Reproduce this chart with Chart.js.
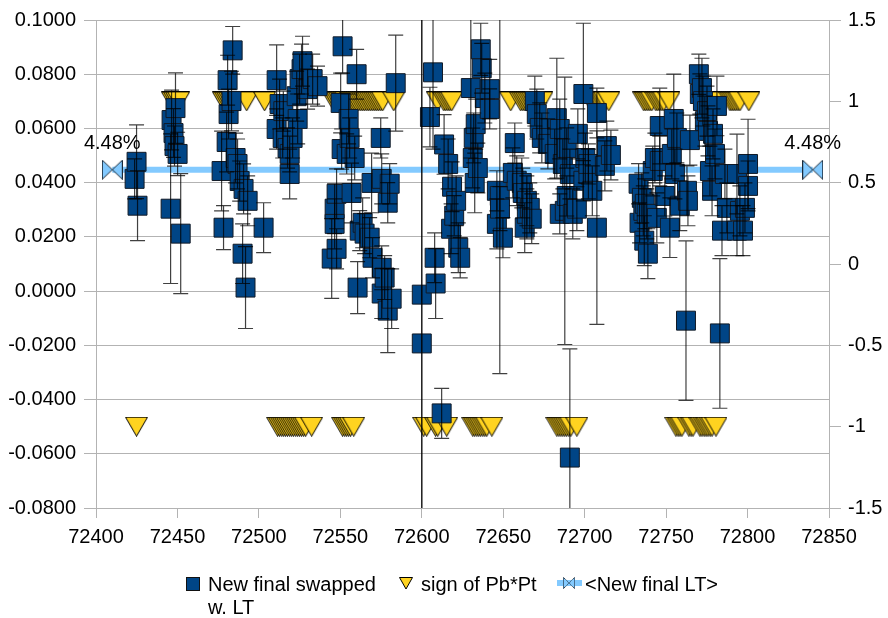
<!DOCTYPE html>
<html>
<head>
<meta charset="utf-8">
<script src="https://cdn.jsdelivr.net/npm/chart.js@4.4.1/dist/chart.umd.min.js"></script>
<style>
  html, body { margin: 0; padding: 0; background: #ffffff; }
  #wrap { width: 888px; height: 618px; }
</style>
</head>
<body>
<div id="wrap"><canvas id="c" width="888" height="618"></canvas></div>
<script>
// ---- data -------------------------------------------------------------
// Day number of each measurement
const days = [
  72423.7, 72424.9, 72425.5,
  72445.8, 72446.4, 72447.6, 72448.2, 72448.8, 72450.1, 72452.0,
  72477.1, 72478.3, 72480.2, 72480.8, 72481.4, 72483.2, 72483.9, 72485.7, 72486.9, 72488.2,
  72490.0, 72490.6, 72491.8, 72493.1, 72502.9,
  72510.9, 72510.9, 72512.7, 72514.6, 72515.0, 72517.6, 72518.9, 72518.9, 72520.7, 72523.2,
  72523.8, 72525.0, 72526.2, 72526.8, 72529.9, 72533.0, 72536.0,
  72544.7, 72546.5, 72546.5, 72547.7, 72547.7, 72550.2, 72550.8, 72551.4, 72553.9, 72555.1,
  72555.7, 72556.9, 72558.8, 72560.0, 72560.6, 72561.9, 72563.7, 72564.9, 72568.0, 72569.2,
  72569.8, 72574.8, 72575.4, 72575.4, 72575.4, 72577.2, 72579.1, 72579.1, 72580.3, 72581.5, 72584.0,
  72600.0, 72600.0, 72605.0, 72606.9, 72607.9, 72608.5, 72612.2, 72613.7, 72616.2, 72618.0,
  72618.6, 72619.9, 72621.1, 72622.4, 72623.6,
  72630.1, 72631.3, 72631.9, 72632.5, 72633.1, 72634.4, 72636.2, 72636.8, 72638.7, 72641.7,
  72641.7, 72646.1, 72646.1, 72647.9, 72648.0, 72649.8,
  72655.9, 72657.1, 72658.3, 72661.4, 72662.0, 72663.2, 72664.5, 72664.5, 72666.3, 72667.5,
  72669.4, 72670.6, 72672.4, 72673.7, 72677.4, 72681.6, 72682.9, 72684.7, 72684.7, 72686.6,
  72687.8, 72689.0, 72689.0, 72690.9, 72690.9, 72692.7, 72695.2, 72695.8, 72699.2, 72699.2,
  72700.4, 72702.3, 72702.3, 72704.7, 72707.5, 72707.5, 72712.4, 72713.6, 72716.1,
  72733.1, 72733.7, 72735.1, 72736.0, 72736.6, 72736.9, 72738.1, 72738.8, 72741.8, 72743.1,
  72744.3, 72746.1, 72746.1, 72749.2, 72752.3, 72753.5, 72754.7, 72755.4, 72756.6, 72758.4,
  72762.2, 72762.8, 72763.4, 72764.6,
  72770.1, 72770.7, 72772.0, 72772.6, 72773.8, 72775.1, 72775.7, 72776.9, 72778.2, 72778.8,
  72780.0, 72781.2, 72783.0, 72784.3, 72786.1, 72787.3, 72793.5, 72793.5, 72795.3, 72797.2,
  72798.4, 72800.3, 72800.3
];

// "New final swapped w. LT" values (left axis)
const swapped = [
  0.0414, 0.0477, 0.0315,
  0.0304, 0.0631, 0.0583, 0.0535, 0.0675, 0.0506, 0.0212,
  0.0443, 0.0234, 0.0550, 0.0778, 0.0653, 0.0701, 0.0888, 0.0491, 0.0469, 0.0406,
  0.0138, 0.0377, 0.0013, 0.0333, 0.0234,
  0.0778, 0.0598, 0.0690, 0.0565, 0.0664, 0.0528, 0.0506, 0.0432, 0.0565, 0.0719,
  0.0635, 0.0782, 0.0819, 0.0848, 0.0745, 0.0782, 0.0756,
  0.0120, 0.0304, 0.0248, 0.0359, 0.0156, 0.0694, 0.0524, 0.0903, 0.0506, 0.0635,
  0.0565, 0.0362, 0.0491, 0.0800, 0.0013, 0.0223, 0.0252, 0.0212, 0.0197, 0.0399,
  0.0123, 0.0565, 0.0414, 0.0086, -0.0009, 0.0050, 0.0326, -0.0072, 0.0396, -0.0028, 0.0767,
  -0.0013, -0.0193, 0.0642, 0.0807, 0.0123, 0.0028, -0.0451, 0.0541, 0.0469, 0.0230,
  0.0385, 0.0278, 0.0333, 0.0160, 0.0123,
  0.0749, 0.0491, 0.0565, 0.0399, 0.0616, 0.0454, 0.0892, 0.0822, 0.0712, 0.0745,
  0.0672, 0.0370, 0.0248, 0.0351, 0.0304, 0.0197,
  0.0436, 0.0546, 0.0407, 0.0399, 0.0362, 0.0234, 0.0333, 0.0285, 0.0307, 0.0267,
  0.0701, 0.0653, 0.0602, 0.0565, 0.0543, 0.0506, 0.0638, 0.0598, 0.0285, 0.0469,
  0.0296, 0.0528, 0.0351, 0.0432, -0.0614, 0.0285, 0.0304, 0.0580, 0.0727, 0.0407,
  0.0491, 0.0432, 0.0469, 0.0370, 0.0657, 0.0234, 0.0462, 0.0535, 0.0502,
  0.0396, 0.0252, 0.0344, 0.0296, 0.0186, 0.0322, 0.0285, 0.0138, 0.0443, 0.0491,
  0.0270, 0.0609, 0.0480, 0.0351, 0.0234, 0.0506, 0.0635, 0.0432, 0.0565, 0.0315,
  -0.0109, 0.0370, 0.0333, 0.0557,
  0.0800, 0.0727, 0.0749, 0.0701, 0.0627, 0.0664, 0.0591, 0.0443, 0.0370, 0.0580,
  0.0506, 0.0683, -0.0156, 0.0223, 0.0432, 0.0307, 0.0223, 0.0432, 0.0296, 0.0223,
  0.0307, 0.0469, 0.0388
];

// Symmetric error of each value
const swappedErr = [
  0.0074, 0.0136, 0.0129,
  0.0276, 0.0110, 0.0090, 0.0074, 0.0130, 0.0080, 0.0221,
  0.0147, 0.0081, 0.0110, 0.0092, 0.0092, 0.0110, 0.0088, 0.0092, 0.0092, 0.0074,
  0.0110, 0.0092, 0.0151, 0.0092, 0.0092,
  0.0130, 0.0074, 0.0092, 0.0074, 0.0074, 0.0074, 0.0066, 0.0092, 0.0074, 0.0092,
  0.0092, 0.0092, 0.0092, 0.0092, 0.0074, 0.0092, 0.0074,
  0.0147, 0.0092, 0.0092, 0.0092, 0.0074, 0.0110, 0.0074, 0.0099, 0.0074, 0.0092,
  0.0074, 0.0110, 0.0081, 0.0092, 0.0096, 0.0074, 0.0092, 0.0074, 0.0074, 0.0110,
  0.0074, 0.0074, 0.0092, 0.0081, 0.0092, 0.0081, 0.0074, 0.0155, 0.0074, 0.0110, 0.0177,
  0.2500, 0.2000, 0.0110, 0.0283, 0.0092, 0.0129, 0.0092, 0.0110, 0.0092, 0.0092,
  0.0092, 0.0074, 0.0092, 0.0092, 0.0074,
  0.0258, 0.0110, 0.0092, 0.0110, 0.0092, 0.0092, 0.0096, 0.0092, 0.0092, 0.0110,
  0.0074, 0.0074, 0.0092, 0.0655, 0.0081, 0.0074,
  0.0092, 0.0074, 0.0092, 0.0092, 0.0092, 0.0092, 0.0092, 0.0092, 0.0092, 0.0092,
  0.0092, 0.0092, 0.0092, 0.0092, 0.0092, 0.0092, 0.0221, 0.0110, 0.0074, 0.0092,
  0.0493, 0.0074, 0.0074, 0.0092, 0.0401, 0.0092, 0.0081, 0.0092, 0.0261, 0.0074,
  0.0092, 0.0092, 0.0074, 0.0092, 0.0092, 0.0357, 0.0092, 0.0092, 0.0092,
  0.0074, 0.0074, 0.0092, 0.0092, 0.0092, 0.0092, 0.0092, 0.0092, 0.0092, 0.0092,
  0.0092, 0.0140, 0.0092, 0.0074, 0.0110, 0.0092, 0.0165, 0.0092, 0.0092, 0.0092,
  0.0294, 0.0092, 0.0092, 0.0092,
  0.0074, 0.0074, 0.0110, 0.0092, 0.0092, 0.0092, 0.0092, 0.0092, 0.0092, 0.0092,
  0.0092, 0.0110, 0.0276, 0.0092, 0.0092, 0.0092, 0.0092, 0.0147, 0.0092, 0.0092,
  0.0092, 0.0165, 0.0092
];

// "sign of Pb*Pt" (right axis), one line per run, drawn left to right
const signDays = [
  72424.9,
  72447.0, 72448.2, 72449.4, 72450.7,
  72478.3, 72479.6, 72480.8, 72482.0, 72483.2, 72484.5, 72485.7, 72492.5, 72503.5,
  72511.5, 72512.7, 72514.0, 72515.2, 72516.4, 72517.6, 72518.9, 72520.1, 72521.3, 72522.6, 72523.8, 72525.0, 72526.2, 72527.5, 72528.7, 72532.4,
  72545.9, 72547.1, 72548.4, 72549.6, 72550.8, 72552.0, 72553.3, 72556.3, 72557.6, 72558.8, 72560.0, 72561.3, 72562.5, 72563.7, 72564.9, 72566.2, 72567.4, 72568.6, 72569.9, 72571.1, 72572.3, 72573.5, 72574.8, 72576.0, 72582.8,
  72551.4, 72552.7, 72553.9, 72555.1, 72556.3, 72558.2,
  72601.2, 72603.0, 72608.5, 72609.8, 72615.3,
  72609.8, 72613.5, 72614.7, 72616.0, 72617.2, 72618.4,
  72631.3, 72632.5, 72633.8, 72635.0, 72636.2, 72637.5, 72638.7, 72639.9, 72643.0,
  72654.6, 72660.7, 72662.0, 72663.2, 72664.4, 72665.7, 72666.9, 72668.1, 72669.4, 72670.6, 72671.8, 72673.7,
  72682.9, 72684.2, 72685.4, 72686.6, 72687.8, 72689.0, 72690.3, 72691.5, 72695.2,
  72703.8, 72705.1, 72706.3, 72707.5, 72708.7, 72710.0, 72711.2, 72712.4, 72714.8,
  72736.3, 72737.5, 72738.8, 72740.0, 72741.2, 72743.7, 72744.9, 72746.1, 72747.4, 72748.6, 72751.7,
  72756.0, 72757.3, 72758.5, 72759.7, 72764.0, 72765.3, 72766.5, 72770.8, 72772.0, 72773.3, 72774.5, 72775.7, 72777.0, 72778.2, 72780.6,
  72781.2, 72783.0, 72789.2, 72790.4, 72791.6, 72792.8, 72794.1, 72795.3, 72800.8
];
const signValues = [
  -1,
  1, 1, 1, 1,
  1, 1, 1, 1, 1, 1, 1, 1, 1,
  -1, -1, -1, -1, -1, -1, -1, -1, -1, -1, -1, -1, -1, -1, -1, -1,
  1, 1, 1, 1, 1, 1, 1, 1, 1, 1, 1, 1, 1, 1, 1, 1, 1, 1, 1, 1, 1, 1, 1, 1, 1,
  -1, -1, -1, -1, -1, -1,
  -1, -1, -1, -1, -1,
  1, 1, 1, 1, 1, 1,
  -1, -1, -1, -1, -1, -1, -1, -1, -1,
  1, 1, 1, 1, 1, 1, 1, 1, 1, 1, 1, 1,
  -1, -1, -1, -1, -1, -1, -1, -1, -1,
  1, 1, 1, 1, 1, 1, 1, 1, 1,
  1, 1, 1, 1, 1, 1, 1, 1, 1, 1, 1,
  -1, -1, -1, -1, -1, -1, -1, -1, -1, -1, -1, -1, -1, -1, -1,
  1, 1, 1, 1, 1, 1, 1, 1, 1
];

// "<New final LT>" mean level and its extent
const ltDays = [72410, 72840];
const ltValue = 0.0448;

// axis ranges
const xRange = { min: 72400, max: 72850, step: 50 };
const leftRange = { min: -0.08, max: 0.1, step: 0.02 };
const rightRange = { min: -1.5, max: 1.5, step: 0.5 };

// ---- look -------------------------------------------------------------
const BLUE = '#004586';
const YELLOW = '#ffd320';
const LIGHT = '#83caff';
const GRID = '#b3b3b3';
const FONT = 'Liberation Sans, Arial, sans-serif';

function triangleSprite(w, h) {
  const c = document.createElement('canvas');
  c.width = w; c.height = h;
  const g = c.getContext('2d');
  g.beginPath();
  g.moveTo(0.5, 0.5); g.lineTo(w - 0.5, 0.5); g.lineTo(w / 2, h - 0.5); g.closePath();
  g.fillStyle = YELLOW; g.fill();
  g.strokeStyle = '#000'; g.lineWidth = 1; g.stroke();
  return c;
}
function bowtieSprite(w, h) {
  const c = document.createElement('canvas');
  c.width = w; c.height = h;
  const g = c.getContext('2d');
  g.beginPath();
  g.moveTo(0.5, 0.5); g.lineTo(w / 2, h / 2); g.lineTo(0.5, h - 0.5); g.closePath();
  g.moveTo(w - 0.5, 0.5); g.lineTo(w / 2, h / 2); g.lineTo(w - 0.5, h - 0.5); g.closePath();
  g.fillStyle = LIGHT; g.fill();
  g.strokeStyle = '#1a2a3a'; g.lineWidth = 1; g.stroke();
  return c;
}
const triSprite = triangleSprite(23, 20);
const bowSprite = bowtieSprite(21, 20);

// error bars with caps, over the squares
const errorBars = {
  id: 'errorBars',
  afterDatasetsDraw(chart) {
    const { ctx, chartArea: a } = chart;
    const x = chart.scales.x, y = chart.scales.y;
    ctx.save();
    ctx.beginPath();
    ctx.rect(a.left, a.top, a.right - a.left, a.bottom - a.top);
    ctx.clip();
    ctx.strokeStyle = 'rgba(0,0,0,0.75)';
    ctx.lineWidth = 1.2;
    for (let i = 0; i < days.length; i++) {
      const px = x.getPixelForValue(days[i]);
      const top = y.getPixelForValue(swapped[i] + swappedErr[i]);
      const bot = y.getPixelForValue(swapped[i] - swappedErr[i]);
      ctx.beginPath();
      ctx.moveTo(px, top); ctx.lineTo(px, bot);
      ctx.moveTo(px - 7.5, top); ctx.lineTo(px + 7.5, top);
      ctx.moveTo(px - 7.5, bot); ctx.lineTo(px + 7.5, bot);
      ctx.stroke();
    }
    ctx.restore();

    // value labels over the LT markers
    ctx.save();
    ctx.font = '20px ' + FONT;
    ctx.fillStyle = '#000';
    ctx.textAlign = 'center';
    ctx.textBaseline = 'alphabetic';
    const label = (ltValue * 100).toFixed(2) + '%';
    ltDays.forEach(d => {
      ctx.fillText(label, x.getPixelForValue(d), y.getPixelForValue(ltValue) - 21);
    });
    ctx.restore();
  }
};

// legend under the plot
const bottomLegend = {
  id: 'bottomLegend',
  afterDraw(chart) {
    const ctx = chart.ctx;
    ctx.save();
    ctx.font = '20px ' + FONT;
    ctx.textAlign = 'left';
    ctx.textBaseline = 'alphabetic';

    // square
    ctx.fillStyle = BLUE;
    ctx.fillRect(186.5, 577.5, 13, 13);
    ctx.strokeStyle = '#111';
    ctx.lineWidth = 1;
    ctx.strokeRect(186.5, 577.5, 13, 13);
    ctx.fillStyle = '#000';
    ctx.fillText('New final swapped', 208, 591);
    ctx.fillText('w. LT', 208, 614);

    // triangle
    ctx.beginPath();
    ctx.moveTo(399.5, 577.5); ctx.lineTo(412.5, 577.5); ctx.lineTo(406, 589); ctx.closePath();
    ctx.fillStyle = YELLOW; ctx.fill();
    ctx.strokeStyle = '#000'; ctx.stroke();
    ctx.fillStyle = '#000';
    ctx.fillText('sign of Pb*Pt', 421, 591);

    // line + bowtie
    ctx.fillStyle = LIGHT;
    ctx.fillRect(557, 580, 25, 6);
    ctx.drawImage(bowSprite, 563, 577, 12, 12);
    ctx.fillStyle = '#000';
    ctx.fillText('<New final LT>', 585, 591);
    ctx.restore();
  }
};

Chart.defaults.font.family = FONT;
Chart.defaults.font.size = 20;
Chart.defaults.color = '#000';

new Chart(document.getElementById('c'), {
  type: 'scatter',
  data: {
    datasets: [
      {
        label: 'New final swapped w. LT',
        data: days.map((d, i) => ({ x: d, y: swapped[i] })),
        yAxisID: 'y',
        pointStyle: 'rect',
        pointRadius: 13.4,
        backgroundColor: BLUE,
        borderColor: '#111a26',
        borderWidth: 1,
        order: 0
      },
      {
        label: 'sign of Pb*Pt',
        data: signDays.map((d, i) => ({ x: d, y: signValues[i] })),
        yAxisID: 'y2',
        pointStyle: triSprite,
        pointRadius: 10,
        order: 1
      },
      {
        label: '<New final LT>',
        data: ltDays.map(d => ({ x: d, y: ltValue })),
        yAxisID: 'y',
        showLine: true,
        borderColor: LIGHT,
        borderWidth: 6,
        pointStyle: bowSprite,
        pointRadius: 10,
        order: 2
      }
    ]
  },
  options: {
    responsive: false,
    animation: false,
    events: [],
    layout: { padding: { top: 19, left: 0, right: 0, bottom: 0 } },
    plugins: { legend: { display: false }, tooltip: { enabled: false } },
    scales: {
      x: {
        type: 'linear',
        position: 'bottom',
        min: xRange.min, max: xRange.max,
        afterFit(s) { s.height = 110; },
        ticks: { stepSize: xRange.step, padding: 7, maxRotation: 0, autoSkip: false,
                 callback: v => String(v) },
        grid: { drawOnChartArea: false, drawTicks: true, tickLength: 10, color: GRID },
        border: { display: true, color: GRID }
      },
      y: {
        type: 'linear',
        position: 'left',
        min: leftRange.min, max: leftRange.max,
        afterFit(s) { s.width = 96; },
        ticks: { stepSize: leftRange.step, padding: 8,
                 callback: v => (Math.abs(v) < 1e-9 ? 0 : v).toFixed(4) },
        grid: { color: GRID, tickLength: 12, drawTicks: true },
        border: { display: true, color: GRID }
      },
      y2: {
        type: 'linear',
        position: 'right',
        min: rightRange.min, max: rightRange.max,
        afterFit(s) { s.width = 59; },
        ticks: { stepSize: rightRange.step, padding: 7,
                 callback: v => String(Math.round(v * 10) / 10) },
        grid: { drawOnChartArea: false, tickLength: 12, color: GRID },
        border: { display: true, color: GRID }
      }
    }
  },
  plugins: [errorBars, bottomLegend]
});
</script>
</body>
</html>
